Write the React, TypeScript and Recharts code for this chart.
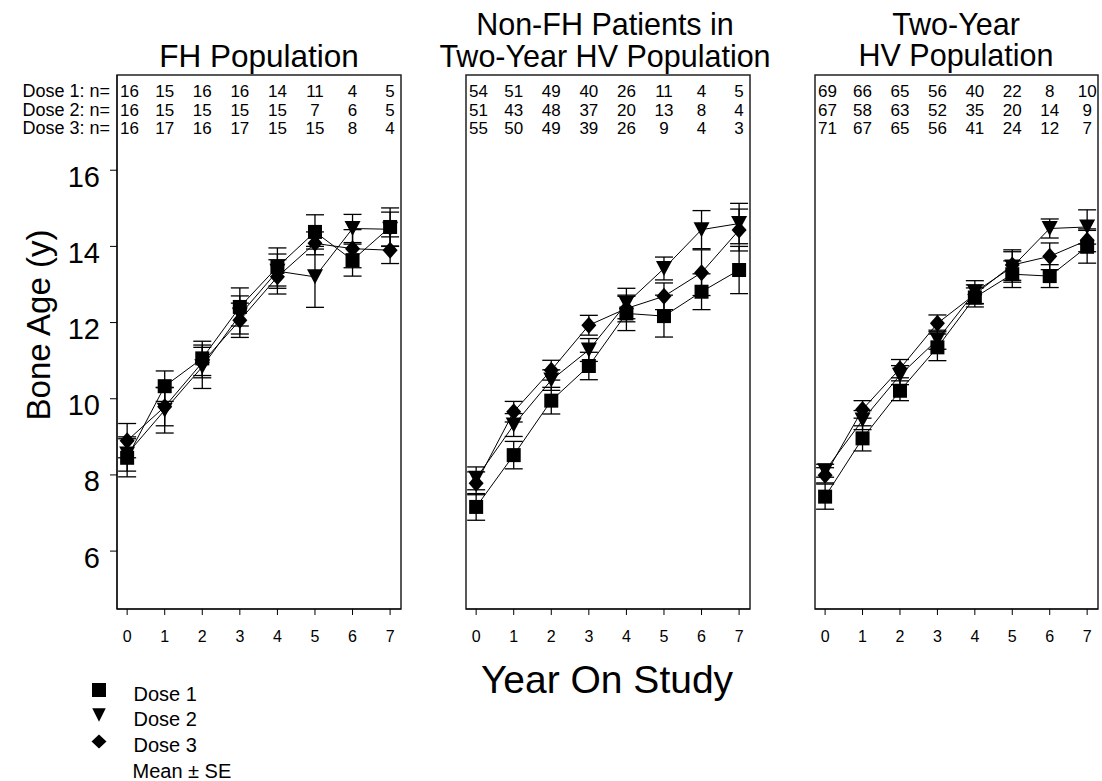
import { ErrorBar, Line, LineChart, ReferenceArea, XAxis, YAxis } from "recharts";

const FONT = '"Liberation Sans", Arial, Helvetica, sans-serif';

const years = [0, 1, 2, 3, 4, 5, 6, 7];
const yTicks = [6, 8, 10, 12, 14, 16];
const xDomain: [number, number] = [-0.27, 7.29];
const yDomain: [number, number] = [4.48, 18.5];

// FH population
const fhDose1 = [8.45, 10.33, 11.06, 12.41, 13.46, 14.38, 13.64, 14.51];
const fhDose1Se = [0.5, 0.4, 0.45, 0.5, 0.5, 0.45, 0.42, 0.5];
const fhDose2 = [8.55, 9.7, 10.84, 12.2, 13.35, 13.2, 14.47, 14.45];
const fhDose2Se = [0.45, 0.6, 0.57, 0.5, 0.45, 0.8, 0.37, 0.45];
const fhDose3 = [8.9, 9.79, 10.95, 12.06, 13.2, 14.08, 13.94, 13.9];
const fhDose3Se = [0.45, 0.5, 0.4, 0.45, 0.45, 0.3, 0.5, 0.35];
const fhN1 = [16, 15, 16, 16, 14, 11, 4, 5];
const fhN2 = [16, 15, 15, 15, 15, 7, 6, 5];
const fhN3 = [16, 17, 16, 17, 15, 15, 8, 4];

// Non-FH patients in two-year HV population
const nfDose1 = [7.16, 8.52, 9.95, 10.86, 12.24, 12.17, 12.81, 13.38];
const nfDose1Se = [0.35, 0.36, 0.35, 0.36, 0.45, 0.55, 0.47, 0.62];
const nfDose2 = [7.91, 9.31, 10.49, 11.28, 12.5, 13.42, 14.44, 14.6];
const nfDose2Se = [0.3, 0.3, 0.27, 0.3, 0.4, 0.3, 0.5, 0.53];
const nfDose3 = [7.78, 9.66, 10.75, 11.93, 12.37, 12.69, 13.31, 14.43];
const nfDose3Se = [0.3, 0.27, 0.26, 0.26, 0.35, 0.35, 0.6, 0.55];
const nfN1 = [54, 51, 49, 40, 26, 11, 4, 5];
const nfN2 = [51, 43, 48, 37, 20, 13, 8, 4];
const nfN3 = [55, 50, 49, 39, 26, 9, 4, 3];

// Two-year HV population
const hvDose1 = [7.43, 8.96, 10.21, 11.35, 12.66, 13.27, 13.22, 13.99];
const hvDose1Se = [0.33, 0.33, 0.26, 0.35, 0.25, 0.35, 0.3, 0.43];
const hvDose2 = [8.11, 9.44, 10.62, 11.55, 12.8, 13.46, 14.47, 14.51];
const hvDose2Se = [0.17, 0.25, 0.25, 0.25, 0.3, 0.4, 0.25, 0.45];
const hvDose3 = [7.99, 9.72, 10.79, 11.98, 12.74, 13.51, 13.74, 14.16];
const hvDose3Se = [0.2, 0.23, 0.24, 0.22, 0.25, 0.4, 0.35, 0.3];
const hvN1 = [69, 66, 65, 56, 40, 22, 8, 10];
const hvN2 = [67, 58, 63, 52, 35, 20, 14, 9];
const hvN3 = [71, 67, 65, 56, 41, 24, 12, 7];

const buildRows = (
  d1: number[], s1: number[], d2: number[], s2: number[], d3: number[], s3: number[]
) => years.map((year, i) => ({ year, d1: d1[i], s1: s1[i], d2: d2[i], s2: s2[i], d3: d3[i], s3: s3[i] }));

// markers
const Square = ({ cx, cy, size = 14 }: any) => (
  <rect x={cx - size / 2} y={cy - size / 2} width={size} height={size} fill="#000" />
);
const TriDown = ({ cx, cy, w = 16, h = 15 }: any) => (
  <polygon points={`${cx - w / 2},${cy - h / 2} ${cx + w / 2},${cy - h / 2} ${cx},${cy + h / 2}`} fill="#000" />
);
const Diamond = ({ cx, cy, w = 15, h = 17 }: any) => (
  <polygon points={`${cx},${cy - h / 2} ${cx + w / 2},${cy} ${cx},${cy + h / 2} ${cx - w / 2},${cy}`} fill="#000" />
);

// n-table rows above each panel
const N_TOP = 97.3;
const N_STEP = 18.3;
const N_FONT = 17;

// one count, centred on its year but kept clear of the frame's left edge
const NCell = ({ x, row, value, plotLeft }: any) => {
  const w = String(value).length * 0.556 * N_FONT;
  const cx = Math.max(x, plotLeft + 3 + w / 2);
  return (
    <text x={cx} y={N_TOP + row * N_STEP} textAnchor="middle" fontSize={N_FONT} fontFamily={FONT} fill="#000">
      {value}
    </text>
  );
};

const YTick = ({ x, y, payload }: any) => (
  <text x={x} y={y} dy={16.5} textAnchor="end" fontSize={29} fontFamily={FONT} fill="#000">
    {payload.value}
  </text>
);

const PLOT_TOP = 75;
const PLOT_BOTTOM = 609;
const H = 781;
const X_AXIS_H = 40;
const Y_AXIS_W = 117;

type PanelProps = {
  left: number;
  width: number;
  marginLeft: number;
  marginRight: number;
  showY: boolean;
  rows: ReturnType<typeof buildRows>;
  counts: number[][];
};

const Panel = ({ left, width, marginLeft, marginRight, showY, rows, counts }: PanelProps) => {
  const plotLeft = marginLeft + (showY ? Y_AXIS_W : 0);
  return (
    <div style={{ position: "absolute", left, top: 0 }}>
      <LineChart
        width={width}
        height={H}
        data={rows}
        margin={{ top: PLOT_TOP, right: marginRight, bottom: H - PLOT_BOTTOM - X_AXIS_H, left: marginLeft }}
      >
        <XAxis
          dataKey="year"
          type="number"
          domain={xDomain}
          ticks={years}
          interval={0}
          allowDataOverflow
          height={X_AXIS_H}
          tickSize={6}
          tickMargin={16}
          axisLine={{ stroke: "#000" }}
          tickLine={{ stroke: "#000" }}
          tick={{ fontSize: 16, fill: "#000", fontFamily: FONT }}
        />
        {showY ? (
          <YAxis
            type="number"
            domain={yDomain}
            ticks={yTicks}
            interval={0}
            allowDataOverflow
            width={Y_AXIS_W}
            tickSize={7}
            tickMargin={10}
            axisLine={{ stroke: "#000" }}
            tickLine={{ stroke: "#000" }}
            tick={<YTick />}
          />
        ) : (
          <YAxis type="number" domain={yDomain} allowDataOverflow hide />
        )}
        <ReferenceArea
          x1={xDomain[0]}
          x2={xDomain[1]}
          y1={yDomain[0]}
          y2={yDomain[1]}
          fill="none"
          fillOpacity={0}
          stroke="#222"
          strokeWidth={1.5}
        />
        {/* sample sizes, placed on the same x scale as the data */}
        {counts.map((n, r) => (
          <Line
            key={`n${r}`}
            dataKey="d1"
            stroke="none"
            isAnimationActive={false}
            activeDot={false}
            legendType="none"
            dot={(p: any) => (
              <NCell key={`n${r}-${p.index}`} x={p.cx} row={r} value={n[p.index]} plotLeft={plotLeft} />
            )}
          />
        ))}
        <Line
          dataKey="d3"
          stroke="#000"
          strokeWidth={1}
          isAnimationActive={false}
          activeDot={false}
          dot={(p: any) => <Diamond key={`d3-${p.index}`} cx={p.cx} cy={p.cy} />}
        >
          <ErrorBar dataKey="s3" direction="y" width={9} stroke="#000" strokeWidth={1.3} isAnimationActive={false} />
        </Line>
        <Line
          dataKey="d2"
          stroke="#000"
          strokeWidth={1}
          isAnimationActive={false}
          activeDot={false}
          dot={(p: any) => <TriDown key={`d2-${p.index}`} cx={p.cx} cy={p.cy} />}
        >
          <ErrorBar dataKey="s2" direction="y" width={9} stroke="#000" strokeWidth={1.3} isAnimationActive={false} />
        </Line>
        <Line
          dataKey="d1"
          stroke="#000"
          strokeWidth={1}
          isAnimationActive={false}
          activeDot={false}
          dot={(p: any) => <Square key={`d1-${p.index}`} cx={p.cx} cy={p.cy} />}
        >
          <ErrorBar dataKey="s1" direction="y" width={9} stroke="#000" strokeWidth={1.3} isAnimationActive={false} />
        </Line>
      </LineChart>
    </div>
  );
};

const doseLabels = ["Dose 1: n=", "Dose 2: n=", "Dose 3: n="];
const legendLabels = ["Dose 1", "Dose 2", "Dose 3", "Mean \u00b1 SE"];

export default function App() {
  return (
    <div style={{ position: "absolute", left: 0, top: 0, width: 1102, height: H, background: "#fff" }}>
      <Panel
        left={0}
        width={420}
        marginLeft={0}
        marginRight={19}
        showY
        rows={buildRows(fhDose1, fhDose1Se, fhDose2, fhDose2Se, fhDose3, fhDose3Se)}
        counts={[fhN1, fhN2, fhN3]}
      />
      <Panel
        left={440}
        width={330}
        marginLeft={26}
        marginRight={20}
        showY={false}
        rows={buildRows(nfDose1, nfDose1Se, nfDose2, nfDose2Se, nfDose3, nfDose3Se)}
        counts={[nfN1, nfN2, nfN3]}
      />
      <Panel
        left={790}
        width={312}
        marginLeft={25}
        marginRight={4}
        showY={false}
        rows={buildRows(hvDose1, hvDose1Se, hvDose2, hvDose2Se, hvDose3, hvDose3Se)}
        counts={[hvN1, hvN2, hvN3]}
      />
      <svg
        width={1102}
        height={H}
        style={{ position: "absolute", left: 0, top: 0, pointerEvents: "none" }}
        fontFamily={FONT}
        fill="#000"
      >
        <text x={259} y={66.5} fontSize={31.5} textAnchor="middle">FH Population</text>
        <text x={605} y={35} fontSize={30.5} textAnchor="middle">Non-FH Patients in</text>
        <text x={605} y={66.5} fontSize={30.5} textAnchor="middle">Two-Year HV Population</text>
        <text x={956} y={34.5} fontSize={30.5} textAnchor="middle">Two-Year</text>
        <text x={956} y={66} fontSize={30.5} textAnchor="middle">HV Population</text>

        {doseLabels.map((t, i) => (
          <text key={t} x={110} y={N_TOP + i * N_STEP} fontSize={18} textAnchor="end">{t}</text>
        ))}

        <text transform="translate(50,325) rotate(-90)" fontSize={33} textAnchor="middle">Bone Age (y)</text>
        <text x={607} y={693} fontSize={39} textAnchor="middle">Year On Study</text>

        <Square cx={99} cy={690} size={14} />
        <TriDown cx={99} cy={715} w={13.5} h={13.5} />
        <Diamond cx={99} cy={741.5} w={15} h={14} />
        {legendLabels.map((t, i) => (
          <text key={t} x={i === 3 ? 132.5 : 133.5} y={700.5 + i * 25.8} fontSize={20}>{t}</text>
        ))}
      </svg>
    </div>
  );
}
